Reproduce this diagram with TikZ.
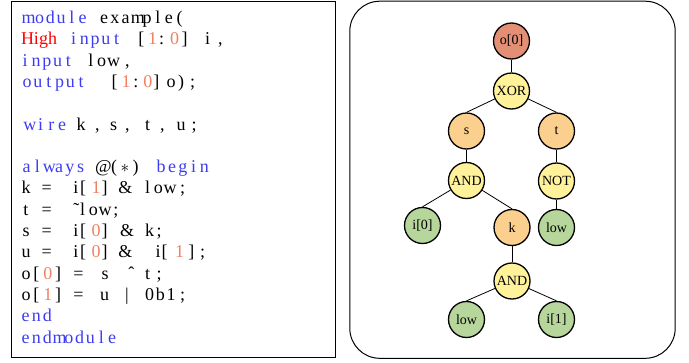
\documentclass[tikz,border=0pt]{standalone}
\usepackage{fontspec}
\setmainfont{Liberation Serif}
\definecolor{kw}{RGB}{60,60,240}
\definecolor{num}{RGB}{240,128,96}
\definecolor{hi}{RGB}{255,0,0}
\definecolor{cRoot}{RGB}{226,143,117}
\definecolor{cWire}{RGB}{251,207,142}
\definecolor{cGate}{RGB}{255,242,154}
\definecolor{cLeaf}{RGB}{182,214,155}
\ExplSyntaxOn
\dim_new:N \l__fx_w_dim
\dim_set:Nn \l__fx_w_dim {10.8pt}
\bool_new:N \l__fx_first_bool
\box_new:N \l__fx_box
\NewDocumentCommand \fx { m }
  {
    \bool_set_true:N \l__fx_first_bool
    \str_map_inline:nn {#1}
      {
        \bool_if:NTF \l__fx_first_bool
          {
            \hbox_set:Nn \l__fx_box {##1}
            \dim_set:Nn \l_tmpa_dim { \box_wd:N \l__fx_box }
            \box_use:N \l__fx_box
            \skip_horizontal:n { \l__fx_w_dim / 2 - \l_tmpa_dim / 2 }
            \bool_set_false:N \l__fx_first_bool
          }
          { \hbox_to_wd:nn { \l__fx_w_dim } { \hfil ##1 \hfil } }
      }
  }
\ExplSyntaxOff
\newcommand\atstar{@\kern-2.9pt\makebox[10.8pt]{(}\makebox[10.8pt]{$\ast$}\makebox[10.8pt]{)}}
\tikzset{
  code/.style={anchor=base west,inner sep=0pt,outer sep=0pt,font=\fontsize{18}{21}\selectfont},
  tnode/.style={circle,draw=black,line width=1.3pt,minimum size=36pt,inner sep=0pt,font=\fontsize{14}{16}\selectfont},
  root/.style={tnode,fill=cRoot},
  wirenode/.style={tnode,fill=cWire},
  gate/.style={tnode,fill=cGate},
  leaf/.style={tnode,fill=cLeaf},
  edge/.style={draw=black,line width=0.8pt},
}
\newcommand\codeline[2]{%
  \foreach \px/\tx/\cl [count=\ii] in {#2}{%
    \node[code,text=\cl] (L#1-\ii) at (\px,{23.5+21.3*(#1-1)}) {\tx};}}
\begin{document}
\begin{tikzpicture}[x=1pt,y=-1pt]
\useasboundingbox (0,0) rectangle (689,362);
% boxes
\draw[line width=1.2pt] (11.7,1.7) rectangle (335.3,357.5);
\draw[line width=1pt,rounded corners=30pt] (349.8,1.2) rectangle (675.2,358.3);
% code
\codeline{1}{21.7/{\fx{module}}/kw, 100/{\fx{example(}}/black}
\codeline{2}{21/High/hi, 71/{\fx{input}}/kw, 138.3/{[}/black, 148/1/num, 159/{:}/black, 170/0/num, 181.7/{]}/black, 205/i/black, 218/{,}/black}
\codeline{3}{22.7/{\fx{input}}/kw, 88.3/{\fx{low}}/black, 125/{,}/black}
\codeline{4}{22.7/{\fx{output}}/kw, 111.7/{[}/black, 121.7/1/num, 133.3/{:}/black, 143.3/0/num, 153.3/{]}/black, 166.7/o/black, 178/{)}/black, 190/{;}/black}
\codeline{6}{23.3/{\fx{wire}}/kw, 76.7/k/black, 95/{,}/black, 110/s/black, 125/{,}/black, 145/t/black, 160/{,}/black, 176.7/u/black, 191.7/{;}/black}
\codeline{8}{22.7/{\fx{always}}/kw, 95/{\atstar}/black, 156.7/{\fx{begin}}/kw}
\codeline{9}{21.7/k/black, 41.7/{=}/black, 73.3/i/black, 80/{[}/black, 91.7/1/num, 101.7/{]}/black, 118.3/{\&}/black, 145/{\fx{low}}/black, 180/{;}/black}
\codeline{10}{23.3/t/black, 41.7/{=}/black, 73.3/{˜}/black, 80/{\fx{low}}/black, 113.3/{;}/black}
\codeline{11}{22.7/s/black, 41.7/{=}/black, 73.3/i/black, 80/{[}/black, 91.7/0/num, 101.7/{]}/black, 120/{\&}/black, 145/k/black, 156.7/{;}/black}
\codeline{12}{21.7/u/black, 41.7/{=}/black, 73.3/i/black, 80/{[}/black, 91.7/0/num, 101.7/{]}/black, 118.3/{\&}/black, 155.7/i/black, 161.7/{[}/black, 175/1/num, 188.3/{]}/black, 200/{;}/black}
\codeline{13}{21.7/o/black, 33.3/{[}/black, 43.3/0/num, 55/{]}/black, 73.3/{=}/black, 101.7/s/black, 128.3/{ˆ}/black, 145/t/black, 156.7/{;}/black}
\codeline{14}{21.7/o/black, 33.3/{[}/black, 43.3/1/num, 55/{]}/black, 73.3/{=}/black, 100/u/black, 125/{|}/black, 145/{\fx{0b1}}/black, 180/{;}/black}
\codeline{15}{21.7/{\fx{end}}/kw}
\codeline{16}{21.7/{\fx{endmodule}}/kw}
% tree
\node[root] (o0) at (511.5,41) {o[0]};
\node[gate] (xor) at (511.5,91) {XOR};
\node[wirenode] (s) at (466.5,131) {s};
\node[wirenode] (t) at (556.5,131) {t};
\node[gate] (and1) at (466.5,180.5) {AND};
\node[gate] (not) at (556.5,181) {NOT};
\node[leaf] (i0) at (422.5,225.5) {i[0]};
\node[wirenode] (k) at (512,227.5) {k};
\node[leaf] (low1) at (556.5,227.5) {low};
\node[gate] (and2) at (512,281) {AND};
\node[leaf] (low2) at (466.5,319.5) {low};
\node[leaf] (i1) at (556.5,319.5) {i[1]};
\draw[edge] (o0) -- (xor.north);
\draw[edge] (xor) -- (s.north);
\draw[edge] (xor) -- (t.north);
\draw[edge] (s) -- (and1.north);
\draw[edge] (t) -- (not.north);
\draw[edge] (and1) -- (i0.north);
\draw[edge] (and1) -- (k.north);
\draw[edge] (not) -- (low1.north);
\draw[edge] (k) -- (and2.north);
\draw[edge] (and2) -- (low2.north);
\draw[edge] (and2) -- (i1.north);
\end{tikzpicture}
\end{document}
